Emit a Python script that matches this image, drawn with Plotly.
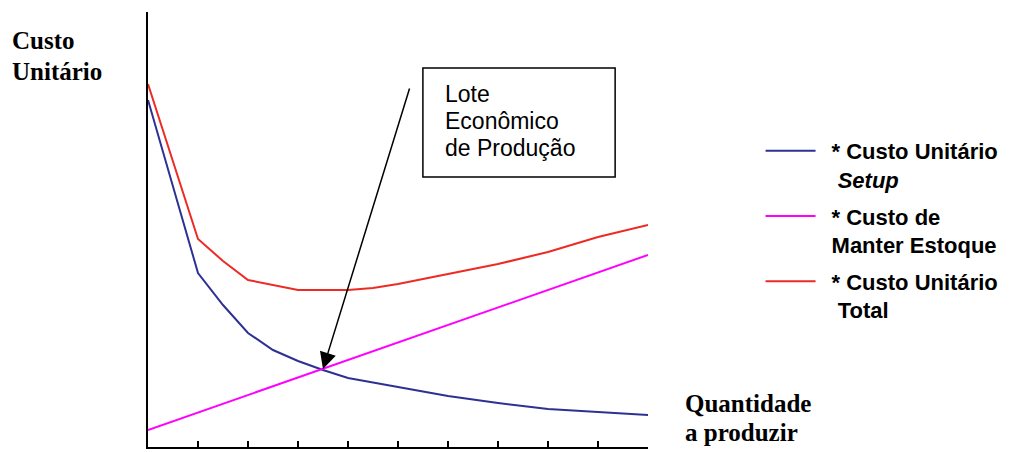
import plotly.graph_objects as go

# ---- data ----
x_setup = [0, 1, 1.5, 2, 2.5, 3, 3.5, 4, 5, 6, 7, 8, 9, 10]
custo_setup = [347, 174, 142, 114, 97, 86, 77, 69, 60, 51, 44, 38, 35, 32]

x_estoque = [0, 10]
custo_estoque = [17, 192]

x_total = [0, 1, 1.5, 2, 3, 4, 4.5, 5, 6, 7, 8, 9, 10]
custo_total = [363, 208, 186, 167, 157, 157, 159, 163, 173, 183, 195, 210, 222]

tick_vals = [0, 1, 2, 3, 4, 5, 6, 7, 8, 9, 10]

SP = "\u2002"
names = [SP + "* Custo Unitário<br>" + SP + "\u00a0<i>Setup</i>",
         SP + "* Custo de<br>" + SP + "Manter Estoque",
         SP + "* Custo Unitário<br>" + SP + "\u00a0Total"]
colors = ["#2E3192", "#FF00FF", "#EE2A24"]

# ---- figure geometry (pixels) ----
W, H = 1009, 452
L, R, T, B = 148, 650, 12, 447


def px(xp):
    return (xp - L) / (R - L)


def py(yp):
    return (B - yp) / (B - T)


fig = go.Figure()
series = [(x_setup, custo_setup), (x_estoque, custo_estoque), (x_total, custo_total)]
for i, ((xs, ys), nm, c) in enumerate(zip(series, names, colors)):
    fig.add_trace(go.Scatter(x=xs, y=ys, mode="lines", name=nm,
                             line=dict(color=c, width=2),
                             legendgroup=f"g{i}", hoverinfo="skip"))

serif = dict(family="Liberation Serif, Times New Roman, serif", size=25,
             color="black", weight="bold")
sans = dict(family="Liberation Sans, Arial, sans-serif", size=23, color="black")

annotations = [
    dict(text="Custo", x=px(9), y=py(41), xanchor="left", yanchor="middle", font=serif),
    dict(text="Unitário", x=px(9), y=py(71), xanchor="left", yanchor="middle", font=serif),
    dict(text="Quantidade", x=px(685), y=py(403), xanchor="left", yanchor="middle", font=serif),
    dict(text="a produzir", x=px(685), y=py(432), xanchor="left", yanchor="middle", font=serif),
    dict(text="Lote", x=px(444), y=py(93.5), xanchor="left", yanchor="middle", font=sans),
    dict(text="Econômico", x=px(444), y=py(121.5), xanchor="left", yanchor="middle", font=sans),
    dict(text="de Produção", x=px(444), y=py(147.5), xanchor="left", yanchor="middle", font=sans),
]
for a in annotations:
    a.update(xref="paper", yref="paper", showarrow=False)

annotations.append(dict(x=3.5, y=78, xref="x", yref="y", text="", showarrow=True,
                        ax=87, ay=-282, arrowhead=2, arrowsize=2.2, arrowwidth=1.5,
                        arrowcolor="black", standoff=0))

fig.update_layout(
    width=W, height=H,
    margin=dict(l=L, r=W - R, t=T, b=H - B, pad=0),
    paper_bgcolor="white", plot_bgcolor="white",
    showlegend=True,
    legend=dict(x=px(763), y=py(130), xanchor="left", yanchor="top",
                font=dict(family="Liberation Sans, Arial, sans-serif", size=22,
                          color="black", weight="bold"),
                itemwidth=50, tracegroupgap=5, valign="top",
                bgcolor="rgba(0,0,0,0)", borderwidth=0),
    xaxis=dict(range=[0, 10], showgrid=False, zeroline=False, showline=True,
               linecolor="black", linewidth=2, ticks="inside", ticklen=6,
               tickwidth=2, tickcolor="black", tickvals=tick_vals,
               showticklabels=False, fixedrange=True),
    xaxis2=dict(range=[0, 10], overlaying="x", side="bottom", showgrid=False,
                zeroline=False, showline=False, ticks="outside", ticklen=6,
                tickwidth=2, tickcolor="black", tickvals=tick_vals,
                showticklabels=False, fixedrange=True),
    yaxis=dict(range=[0, B - T], showgrid=False, zeroline=False, showline=True,
               linecolor="black", linewidth=2, ticks="", showticklabels=False,
               fixedrange=True),
    annotations=annotations,
    shapes=[dict(type="rect", xref="paper", yref="paper",
                 x0=px(424), x1=px(617), y0=py(177), y1=py(68),
                 line=dict(color="black", width=1.5))],
)

fig.write_html("out.html", config={"displayModeBar": False},
               post_script="document.body.style.margin='0px';")
